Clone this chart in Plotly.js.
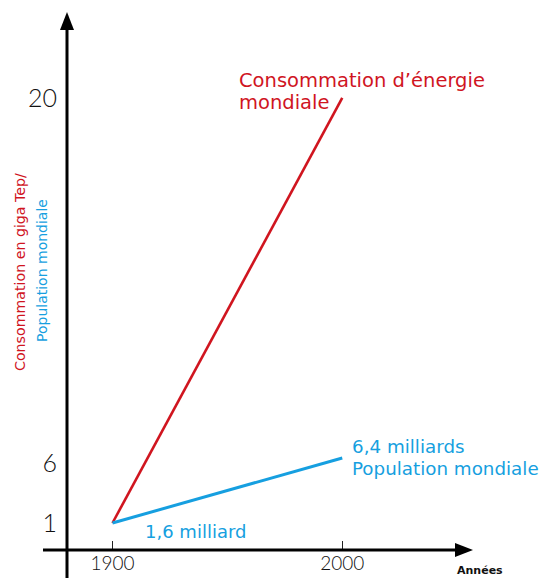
<!DOCTYPE html>
<html>
<head>
<meta charset="utf-8">
<script src="https://cdn.plot.ly/plotly-3.0.1.min.js"></script>
<style>html,body{margin:0;padding:0;background:#fff;}#chart{width:541px;height:578px;}</style>
</head>
<body>
<div id="chart"></div>
<script>
// ---- data ----
const years = [1900, 2000];
const energy = [1, 20];          // giga Tep
const population = [1.6, 6.4];  // milliards
const xTicks = [1900, 2000];
const yTicks = [1, 20];
const y2Ticks = [6];

const RED = '#d0151f';
const BLUE = '#169fe0';
const LABEL_FONT = '"DejaVu Sans", sans-serif';
const TICK_FONT = 'Lato, "Open Sans", sans-serif';

const traces = [
  {x: years, y: energy, type: 'scatter', mode: 'lines', line: {color: RED, width: 2.6}, yaxis: 'y', hoverinfo: 'skip'},
  {x: years, y: population, type: 'scatter', mode: 'lines', line: {color: BLUE, width: 3}, yaxis: 'y2', hoverinfo: 'skip'}
];

function lbl(x, y, text, size, color, extra) {
  return Object.assign({xref: 'paper', yref: 'paper', x: x, y: y, xanchor: 'left', yanchor: 'middle',
    showarrow: false, text: text, font: {family: LABEL_FONT, size: size, color: color}}, extra || {});
}

const layout = {
  width: 541, height: 578,
  margin: {l: 67, r: 68, t: 12, b: 28},
  paper_bgcolor: '#fff', plot_bgcolor: '#fff',
  showlegend: false,
  xaxis: {
    range: [1880.2, 2056.9], showgrid: false, zeroline: false, showline: false,
    tickmode: 'array', tickvals: xTicks, ticktext: xTicks.map(String),
    ticks: 'inside', ticklen: 9, tickwidth: 1.5, tickcolor: '#222',
    tickfont: {family: TICK_FONT, size: 19, color: '#111', weight: 300}
  },
  yaxis: {
    range: [-0.207, 23.844], showgrid: false, zeroline: false, showline: false,
    tickmode: 'array', tickvals: yTicks, ticktext: yTicks.map(String), ticks: '',
    ticklabelstandoff: 9,
    tickfont: {family: TICK_FONT, size: 25, color: '#111', weight: 300}
  },
  yaxis2: {
    overlaying: 'y', side: 'left', range: [-0.394, 39.34],
    showgrid: false, zeroline: false, showline: false,
    tickmode: 'array', tickvals: y2Ticks, ticktext: y2Ticks.map(String), ticks: '',
    ticklabelstandoff: 9,
    tickfont: {family: TICK_FONT, size: 25, color: '#111', weight: 300}
  },
  shapes: [
    {type: 'line', xref: 'paper', yref: 'paper', x0: 0, x1: 0, y0: -0.052, y1: 0.97, line: {color: '#000', width: 3}},
    {type: 'path', xref: 'paper', yref: 'paper', path: 'M 0 1 L -0.01724 0.9665 L 0.01724 0.9665 Z', fillcolor: '#000', line: {color: '#000', width: 0}},
    {type: 'line', xref: 'paper', yref: 'paper', x0: -0.0591, x1: 0.963, y0: 0, y1: 0, line: {color: '#000', width: 3}},
    {type: 'path', xref: 'paper', yref: 'paper', path: 'M 1 0 L 0.9557 0.01301 L 0.9557 -0.01301 Z', fillcolor: '#000', line: {color: '#000', width: 0}}
  ],
  annotations: [
    lbl(0.4187, 0.8736, 'Consommation d’énergie', 19.5, RED),
    lbl(0.4187, 0.8309, 'mondiale', 19.5, RED),
    lbl(0.6970, 0.1933, '6,4 milliards', 18.3, BLUE),
    lbl(0.6970, 0.1506, 'Population mondiale', 18.3, BLUE),
    lbl(0.1872, 0.0353, '1,6 milliard', 18, BLUE),
    lbl(1.0172, -0.0372, '<b>Années</b>', 11, '#111', {xanchor: 'center'}),
    lbl(-0.1158, 0.5167, 'Consommation en giga Tep/', 14.2, RED, {xanchor: 'center', textangle: -90}),
    lbl(-0.0616, 0.5204, 'Population mondiale', 14, BLUE, {xanchor: 'center', textangle: -90})
  ]
};

Plotly.newPlot('chart', traces, layout, {displayModeBar: false, staticPlot: true});
</script>
</body>
</html>
